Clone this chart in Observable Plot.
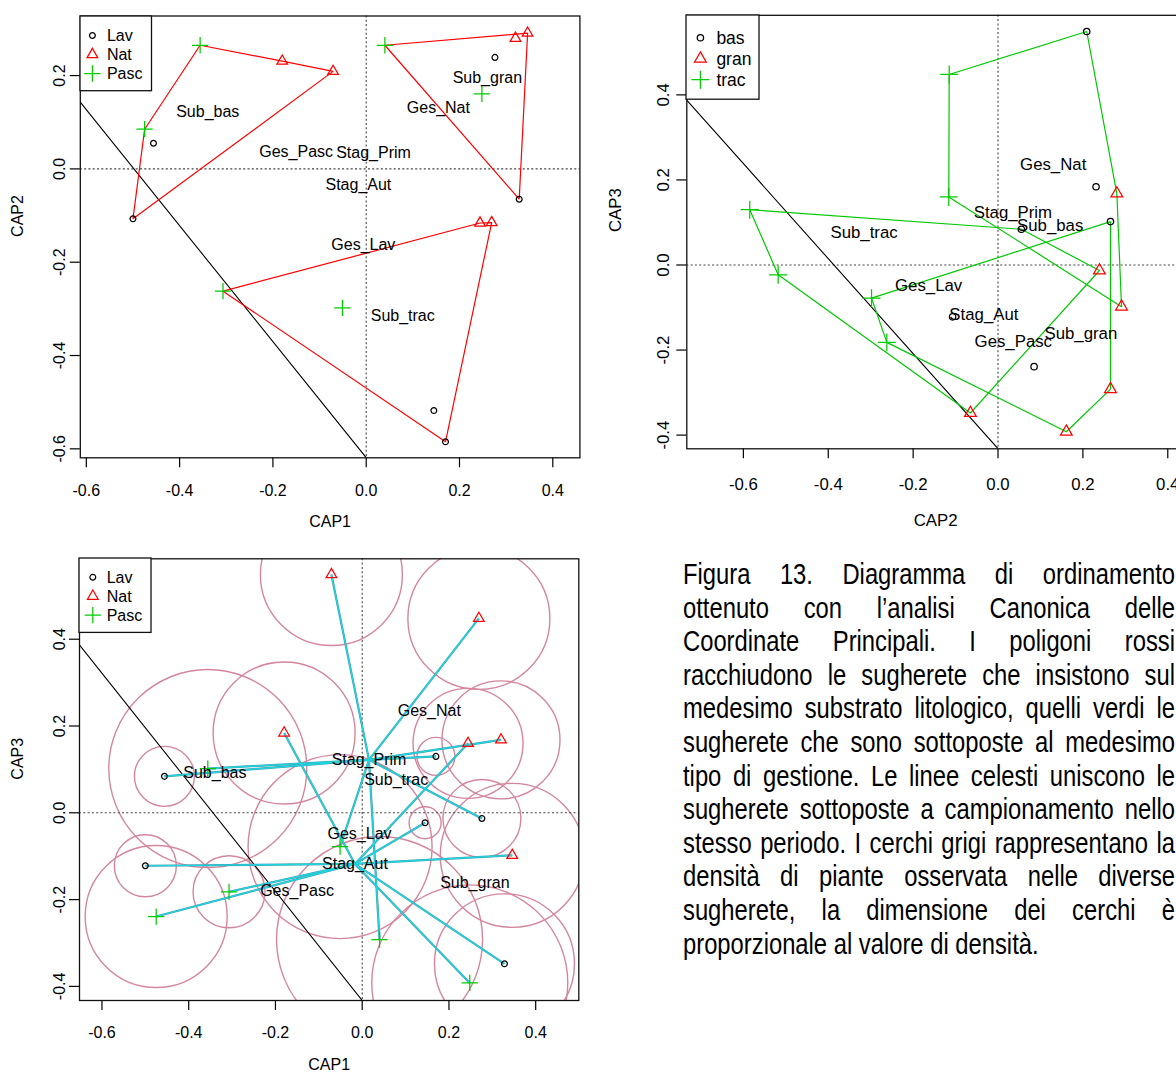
<!DOCTYPE html>
<html><head><meta charset="utf-8">
<script src="https://cdn.jsdelivr.net/npm/d3@7"></script>
<script src="https://cdn.jsdelivr.net/npm/@observablehq/plot@0.6"></script>
<style>
html,body{margin:0;padding:0;background:#fff;}
#page{position:relative;width:1176px;height:1076px;overflow:hidden;background:#fff;font-family:"Liberation Sans",Arial,sans-serif;}
#page > svg{position:absolute;}
.capline{text-align:justify;text-align-last:justify;}
.capline.last{text-align:left;text-align-last:left;}
</style></head>
<body><div id="page"></div>
<script>
// ---------------- DATA ----------------
const gestione  = ["Lav","Lav","Lav","Lav","Lav","Lav","Nat","Nat","Nat","Nat","Nat","Nat","Pasc","Pasc","Pasc","Pasc","Pasc","Pasc"];
const substrato = ["bas","bas","gran","gran","trac","trac","bas","bas","gran","gran","trac","trac","bas","bas","gran","gran","trac","trac"];
const stagione  = ["Aut","Prim","Prim","Aut","Aut","Prim","Prim","Aut","Prim","Aut","Aut","Prim","Prim","Aut","Prim","Aut","Aut","Prim"];
const cap1 = [-0.500,-0.456,0.276,0.328,0.145,0.170,-0.071,-0.180,0.320,0.346,0.244,0.269,-0.356,-0.475,0.040,0.248,-0.307,-0.051];
const cap2 = [-0.107,0.055,0.239,-0.065,-0.518,-0.585,0.209,0.231,0.280,0.291,-0.116,-0.115,0.265,0.085,0.265,0.161,-0.262,-0.298];
const cap3 = [-0.122,0.084,-0.013,-0.348,-0.023,0.130,0.549,0.184,0.168,-0.098,0.160,0.448,0.102,-0.239,-0.292,-0.392,-0.182,-0.078];
const densita = [31,30,39,70,16,19,71,71,59,72,55,71,99,71,103,98,36,92];

const gesLevels = ["Lav","Nat","Pasc"];
const subLevels = ["bas","gran","trac"];
const ticksX = [-0.6,-0.4,-0.2,0,0.2,0.4];
const ticksY1 = [-0.6,-0.4,-0.2,0,0.2];
const ticksY23 = [-0.4,-0.2,0,0.2,0.4];
// reference straight line drawn in each panel (two end points)
const retta1 = [[-0.613,0.143],[0.0,-0.619]];
const retta2 = [[-0.733,0.387],[0.0,-0.432]];
const retta3 = [[-0.652,0.387],[0.0,-0.4325]];

const captionLines = [
  "Figura 13. Diagramma di ordinamento",
  "ottenuto con l\u2019analisi Canonica delle",
  "Coordinate Principali. I poligoni rossi",
  "racchiudono le sugherete che insistono sul",
  "medesimo substrato litologico, quelli verdi le",
  "sugherete che sono sottoposte al medesimo",
  "tipo di gestione. Le linee celesti uniscono le",
  "sugherete sottoposte a campionamento nello",
  "stesso periodo. I cerchi grigi rappresentano la",
  "densit\u00e0 di piante osservata nelle diverse",
  "sugherete, la dimensione dei cerchi \u00e8",
  "proporzionale al valore di densit\u00e0."
];

// ---------------- BUILD ----------------
const sites = cap1.map((_, i) => ({ges: gestione[i], sub: substrato[i], stag: stagione[i],
  CAP1: cap1[i], CAP2: cap2[i], CAP3: cap3[i], dens: densita[i]}));

function centroids(xk, yk) {
  const out = [];
  for (const [key, prefix] of [["ges","Ges_"],["sub","Sub_"],["stag","Stag_"]]) {
    for (const [lvl, rows] of d3.group(sites, d => d[key])) {
      out.push({label: prefix + lvl, key, lvl, x: d3.mean(rows, d => d[xk]), y: d3.mean(rows, d => d[yk])});
    }
  }
  return out;
}

const FONT = '"Liberation Sans", Arial, Helvetica, sans-serif';
const COLORS = ["#000000", "#FF0000", "#00CD00"];
const SYMS = ["circle", "triangle2", "plus"];
const D3SYMS = [d3.symbolCircle, d3.symbolTriangle2, d3.symbolPlus];
const SYMR = [2.9, 5.1, 5.3];
const fmt = d => d.toFixed(1);

function pointMarks(xk, yk, key, levels, k = 1) {
  return levels.map((l, i) => Plot.dot(sites.filter(d => d[key] === l),
    {x: xk, y: yk, symbol: key, stroke: key, fill: "none", r: SYMR[i] * k, strokeWidth: 1.25}));
}

function axes(o) {
  return [
    Plot.axisX({ticks: ticksX, tickSize: 10, tickPadding: o.padX, tickFormat: fmt, fontSize: o.fs, label: null, strokeWidth: 1.2}),
    Plot.axisY({ticks: o.ticksY, tickSize: 10, tickPadding: o.padY, tickRotate: -90, tickFormat: fmt, fontSize: o.fs, label: null, strokeWidth: 1.2}),
    Plot.text([o.xl], {frameAnchor: "bottom", dy: o.xlDy, text: d => d, fontSize: o.fs, fill: "#000"}),
    Plot.text([o.yl], {frameAnchor: "left", dx: o.ylDx, rotate: -90, text: d => d, fontSize: o.fs, fill: "#000"}),
    Plot.frame({stroke: "#111", strokeWidth: 1.3})
  ];
}

function zeroRules() {
  return [
    Plot.ruleX([0], {stroke: "#444", strokeDasharray: "2,2.3", strokeWidth: 1.1}),
    Plot.ruleY([0], {stroke: "#444", strokeDasharray: "2,2.3", strokeWidth: 1.1})
  ];
}

const page = document.getElementById("page");
function place(svg, left, top) {
  svg.style.left = left + "px"; svg.style.top = top + "px";
  page.appendChild(svg);
}
const baseStyle = {fontFamily: FONT, fontSize: "16px", background: "transparent", overflow: "visible", maxWidth: "none", color: "#000"};

// ---- Panel 1 : CAP1 x CAP2, hulls by substrate ----
const p1 = Plot.plot({
  width: 590, height: 540, marginLeft: 79.8, marginRight: 10.6, marginTop: 15.5, marginBottom: 82.7,
  style: baseStyle,
  x: {domain: [-0.6129, 0.4581]},
  y: {domain: [-0.6192, 0.3277]},
  symbol: {domain: gesLevels, range: SYMS},
  color: {domain: gesLevels, range: COLORS},
  marks: [
    ...zeroRules(),
    Plot.line(retta1, {x: d => d[0], y: d => d[1], stroke: "#000", strokeWidth: 1.1, clip: true}),
    Plot.hull(sites, {x: "CAP1", y: "CAP2", z: "sub", stroke: "#FF0000", strokeWidth: 1.2}),
    ...pointMarks("CAP1", "CAP2", "ges", gesLevels),
    Plot.text(centroids("CAP1", "CAP2"), {x: "x", y: "y", text: "label", fontSize: 16, fill: "#000"}),
    ...axes({padX: 16.4, padY: 4.9, fs: 16, ticksY: ticksY1, xl: "CAP1", yl: "CAP2", xlDy: 69, ylDx: -62.9})
  ]
});
place(p1, 0, 0);

// ---- Panel 2 : CAP2 x CAP3, hulls by management ----
const p2 = Plot.plot({
  width: 604, height: 540, marginLeft: 96.3, marginRight: 10, marginTop: 14.8, marginBottom: 91.7,
  style: baseStyle,
  x: {domain: [-0.7333, 0.4394]},
  y: {domain: [-0.4322, 0.5871]},
  symbol: {domain: subLevels, range: SYMS},
  color: {domain: subLevels, range: COLORS},
  marks: [
    ...zeroRules(),
    Plot.line(retta2, {x: d => d[0], y: d => d[1], stroke: "#000", strokeWidth: 1.1, clip: true}),
    Plot.hull(sites, {x: "CAP2", y: "CAP3", z: "ges", stroke: "#00C800", strokeWidth: 1.2}),
    ...pointMarks("CAP2", "CAP3", "sub", subLevels, 1.1),
    Plot.text(centroids("CAP2", "CAP3"), {x: "x", y: "y", text: "label", fontSize: 16.8, fill: "#000"}),
    ...axes({padX: 19.7, padY: 7.9, fs: 16.8, ticksY: ticksY23, xl: "CAP2", yl: "CAP3", xlDy: 76.8, ylDx: -70.7})
  ]
});
place(p2, 590, 0);

// ---- Panel 3 : CAP1 x CAP3, density circles + spider by sampling period ----
const stagCent = new Map(centroids("CAP1", "CAP3").filter(d => d.key === "stag").map(d => [d.lvl, d]));
const p3 = Plot.plot({
  width: 590, height: 536, marginLeft: 79, marginRight: 11.7, marginTop: 18.3, marginBottom: 76,
  style: baseStyle,
  x: {domain: [-0.6518, 0.4994]},
  y: {domain: [-0.4325, 0.5853]},
  r: {type: "linear", domain: [0, 100], range: [0, 100]},
  symbol: {domain: gesLevels, range: SYMS},
  color: {domain: gesLevels, range: COLORS},
  marks: [
    Plot.dot(sites, {x: "CAP1", y: "CAP3", r: "dens", stroke: "#D4869E", fill: "none", strokeWidth: 1.4, clip: true}),
    ...zeroRules(),
    Plot.line(retta3, {x: d => d[0], y: d => d[1], stroke: "#000", strokeWidth: 1.1, clip: true}),
    Plot.link(sites, {x1: "CAP1", y1: "CAP3", x2: d => stagCent.get(d.stag).x, y2: d => stagCent.get(d.stag).y, stroke: "#3f9fb3", strokeWidth: 2.2}),
    Plot.link(sites, {x1: "CAP1", y1: "CAP3", x2: d => stagCent.get(d.stag).x, y2: d => stagCent.get(d.stag).y, stroke: "#1ed8e0", strokeWidth: 1.2}),
    ...pointMarks("CAP1", "CAP3", "ges", gesLevels),
    Plot.text(centroids("CAP1", "CAP3"), {x: "x", y: "y", text: "label", fontSize: 16, fill: "#000"}),
    ...axes({padX: 16.5, padY: 4.1, fs: 16, ticksY: ticksY23, xl: "CAP1", yl: "CAP3", xlDy: 69, ylDx: -62.1})
  ]
});
place(p3, 0, 540);

// ---- in-plot legends ----
function legend(levels, L) {
  const svg = d3.create("svg").attr("width", L.w + 4).attr("height", L.h + 4)
    .style("left", (L.left - 2) + "px").style("top", (L.top - 2) + "px").style("overflow", "visible");
  svg.append("rect").attr("x", 2).attr("y", 2).attr("width", L.w).attr("height", L.h)
    .attr("fill", "#fff").attr("stroke", "#111").attr("stroke-width", 1.3);
  levels.forEach((lvl, i) => {
    const r = SYMR[i] * L.k;
    svg.append("path").attr("transform", `translate(${L.symX - L.left + 2},${L.rows[i] - L.top + 2})`)
      .attr("d", d3.symbol(D3SYMS[i], Math.PI * r * r)()).attr("fill", "none").attr("stroke", COLORS[i]).attr("stroke-width", 1.25);
    svg.append("text").attr("x", L.textX - L.left + 2).attr("y", L.rows[i] - L.top + 2).attr("dy", "0.36em")
      .attr("font-family", FONT).attr("font-size", L.fs).attr("fill", "#000").text(lvl);
  });
  page.appendChild(svg.node());
}
legend(gesLevels, {left: 79.8, top: 15.5, w: 71.5, h: 74.7, symX: 92.2, textX: 106.7, rows: [35, 54, 73], fs: 16, k: 1});
legend(subLevels, {left: 686.3, top: 14.8, w: 73, h: 84.2, symX: 700.7, textX: 716.7, rows: [37.5, 58.5, 79.5], fs: 17.5, k: 1.1});
legend(gesLevels, {left: 79, top: 558.3, w: 72, h: 74.4, symX: 92.8, textX: 106.7, rows: [577.5, 596.5, 615.5], fs: 16, k: 1});

// ---- caption ----
function hasFont(name) {
  const c = document.createElement("canvas").getContext("2d");
  const s = "abcdefghijklmnopqrstuvwxyz ABCDEFGHIJ 0123456789";
  c.font = "40px monospace"; const w1 = c.measureText(s).width;
  c.font = `40px "${name}", monospace`; const w2 = c.measureText(s).width;
  return Math.abs(w1 - w2) > 0.5;
}
const narrow = hasFont("Liberation Sans Narrow");
const CAPW = 492;
const cap = document.createElement("div");
const squeeze = narrow ? 1 : 0.82;
cap.style.cssText = `position:absolute;left:682.5px;top:558px;width:${CAPW / squeeze}px;` +
  `font-family:${narrow ? '"Liberation Sans Narrow"' : FONT};font-size:29px;line-height:33.6px;color:#000;` +
  `transform:scaleX(${squeeze});transform-origin:0 0;`;
captionLines.forEach((t, i) => {
  const d = document.createElement("div");
  d.className = "capline" + (i === captionLines.length - 1 ? " last" : "");
  d.textContent = t;
  cap.appendChild(d);
});
page.appendChild(cap);
</script>
</body></html>
